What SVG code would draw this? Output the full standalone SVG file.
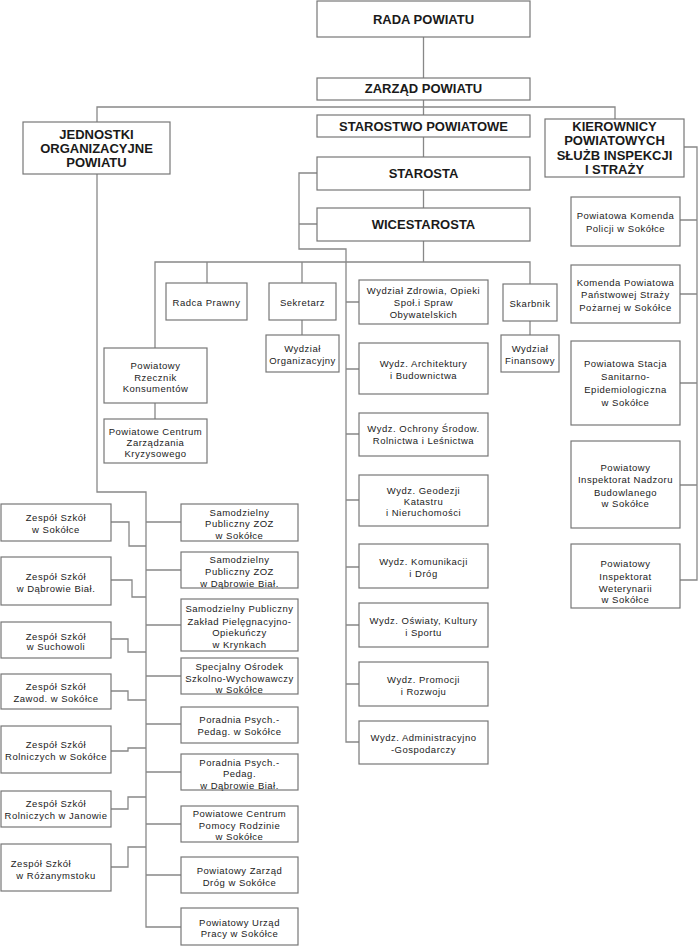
<svg xmlns="http://www.w3.org/2000/svg" width="700" height="946" viewBox="0 0 700 946">
<style>
.b{fill:#fff;stroke:#777;stroke-width:1.2}
.h{font-family:"Liberation Sans",Arial,sans-serif;font-weight:bold;font-size:13px;fill:#1a1a1a;text-anchor:middle}
.t{font-family:"Liberation Sans",Arial,sans-serif;font-size:9.5px;letter-spacing:0.5px;fill:#222;text-anchor:middle}
.ln{fill:none;stroke:#888;stroke-width:1.3}
</style>
<rect width="700" height="946" fill="#fff"/>
<g id="connectors" class="ln">
<path d="M423.5,37V78M423.5,100V115M97,122V107H615V119M423.5,137V157M423.5,190V208M423.5,241V262"/>
<path d="M317,173H299V249H346V742H359M299,224H317"/>
<path d="M155,348V262H530V284M207,262V283M302,262V283M302,320V335M155,403V419M530,321V335"/>
<path d="M346,302H359M346,369H359M346,434H359M346,500H359M346,567H359M346,625H359M346,684H359"/>
<path d="M684,147H697V580H680M680,220H697M680,294H697M680,383H697M680,485H697"/>
<path d="M97,174V492H146V927H181M146,522H181M146,570H181M146,625H181M146,676H181M146,724H181M146,772H181M146,824H181M146,875H181"/>
<path d="M111,522H129V546H146M111,580H132V597H146M111,639H128V652H146M111,691H128V700H146M111,751H128V748H146M111,809H128V797H146M111,867H128V847H146"/>
</g>
<g id="rada"><rect class="b" x="317" y="1" width="213" height="36"/><text class="h" x="423.5" y="24">RADA POWIATU</text></g>
<g id="zarzad"><rect class="b" x="317" y="78" width="213" height="22"/><text class="h" x="423.5" y="93">ZARZĄD POWIATU</text></g>
<g id="starostwo"><rect class="b" x="317" y="115" width="213" height="22"/><text class="h" x="423.5" y="131">STAROSTWO POWIATOWE</text></g>
<g id="jednostki"><rect class="b" x="23" y="122" width="147" height="52"/><text class="h" x="96.5" y="139">JEDNOSTKI</text><text class="h" x="96.5" y="153">ORGANIZACYJNE</text><text class="h" x="96.5" y="167">POWIATU</text></g>
<g id="kierownicy"><rect class="b" x="545" y="119" width="139" height="58"/><text class="h" x="614.5" y="131">KIEROWNICY</text><text class="h" x="614.5" y="145">POWIATOWYCH</text><text class="h" x="614.5" y="160">SŁUŻB INSPEKCJI</text><text class="h" x="614.5" y="174">I STRAŻY</text></g>
<g id="starosta"><rect class="b" x="317" y="157" width="213" height="33"/><text class="h" x="423.5" y="178">STAROSTA</text></g>
<g id="wicestarosta"><rect class="b" x="317" y="208" width="213" height="33"/><text class="h" x="423.5" y="229">WICESTAROSTA</text></g>
<g id="radca"><rect class="b" x="166" y="283" width="81" height="37"/><text class="t" x="206.5" y="306">Radca Prawny</text></g>
<g id="sekretarz"><rect class="b" x="269" y="283" width="67" height="37"/><text class="t" x="302.5" y="306">Sekretarz</text></g>
<g id="wydz-org"><rect class="b" x="266" y="335" width="73" height="37"/><text class="t" x="302.5" y="351.5">Wydział</text><text class="t" x="302.5" y="363.5">Organizacyjny</text></g>
<g id="rzecznik"><rect class="b" x="104" y="348" width="103" height="55"/><text class="t" x="155.5" y="369">Powiatowy</text><text class="t" x="155.5" y="380.5">Rzecznik</text><text class="t" x="155.5" y="392">Konsumentów</text></g>
<g id="pczk"><rect class="b" x="104" y="419" width="103" height="44"/><text class="t" x="155.5" y="434.5">Powiatowe Centrum</text><text class="t" x="155.5" y="445.5">Zarządzania</text><text class="t" x="155.5" y="456.5">Kryzysowego</text></g>
<g id="skarbnik"><rect class="b" x="503" y="284" width="54" height="37"/><text class="t" x="530" y="306.5">Skarbnik</text></g>
<g id="wydz-fin"><rect class="b" x="501" y="335" width="58" height="37"/><text class="t" x="530" y="351.5">Wydział</text><text class="t" x="530" y="363.5">Finansowy</text></g>
<g id="wydz-zdrowia"><rect class="b" x="359" y="280" width="129" height="44"/><text class="t" x="423.5" y="293.5">Wydział Zdrowia, Opieki</text><text class="t" x="423.5" y="305.5">Społ.i Spraw</text><text class="t" x="423.5" y="317.5">Obywatelskich</text></g>
<g id="wydz-arch"><rect class="b" x="359" y="343" width="129" height="51"/><text class="t" x="423.5" y="366.5">Wydz. Architektury</text><text class="t" x="423.5" y="378.5">i Budownictwa</text></g>
<g id="wydz-ochrony"><rect class="b" x="359" y="413" width="129" height="43"/><text class="t" x="423.5" y="431.5">Wydz. Ochrony Środow.</text><text class="t" x="423.5" y="443.5">Rolnictwa i Leśnictwa</text></g>
<g id="wydz-geodezji"><rect class="b" x="359" y="475" width="129" height="51"/><text class="t" x="423.5" y="493.5">Wydz. Geodezji</text><text class="t" x="423.5" y="504.5">Katastru</text><text class="t" x="423.5" y="515.5">i Nieruchomości</text></g>
<g id="wydz-kom"><rect class="b" x="359" y="544" width="129" height="44"/><text class="t" x="423.5" y="564.5">Wydz. Komunikacji</text><text class="t" x="423.5" y="577">i Dróg</text></g>
<g id="wydz-osw"><rect class="b" x="359" y="603" width="129" height="44"/><text class="t" x="423.5" y="623.5">Wydz. Oświaty, Kultury</text><text class="t" x="423.5" y="635.5">i Sportu</text></g>
<g id="wydz-prom"><rect class="b" x="359" y="662" width="129" height="44"/><text class="t" x="423.5" y="682.5">Wydz. Promocji</text><text class="t" x="423.5" y="694.5">i Rozwoju</text></g>
<g id="wydz-adm"><rect class="b" x="359" y="721" width="129" height="43"/><text class="t" x="423.5" y="740.5">Wydz. Administracyjno</text><text class="t" x="423.5" y="752.5">-Gospodarczy</text></g>
<g id="policja"><rect class="b" x="571" y="197" width="109" height="49"/><text class="t" x="625.5" y="218.5">Powiatowa Komenda</text><text class="t" x="625.5" y="231.5">Policji w Sokółce</text></g>
<g id="psp"><rect class="b" x="571" y="265" width="109" height="58"/><text class="t" x="625.5" y="285.5">Komenda Powiatowa</text><text class="t" x="625.5" y="297.5">Państwowej Straży</text><text class="t" x="625.5" y="310.5">Pożarnej w Sokółce</text></g>
<g id="sanepid"><rect class="b" x="571" y="341" width="109" height="84"/><text class="t" x="625.5" y="366.5">Powiatowa Stacja</text><text class="t" x="625.5" y="380">Sanitarno-</text><text class="t" x="625.5" y="392.5">Epidemiologiczna</text><text class="t" x="625.5" y="405.5">w Sokółce</text></g>
<g id="pinb"><rect class="b" x="571" y="441" width="109" height="87"/><text class="t" x="625.5" y="470.5">Powiatowy</text><text class="t" x="625.5" y="482.5">Inspektorat Nadzoru</text><text class="t" x="625.5" y="495.5">Budowlanego</text><text class="t" x="625.5" y="506.5">w Sokółce</text></g>
<g id="piw"><rect class="b" x="571" y="544" width="109" height="64"/><text class="t" x="625.5" y="566.5">Powiatowy</text><text class="t" x="625.5" y="579.5">Inspektorat</text><text class="t" x="625.5" y="591.5">Weterynarii</text><text class="t" x="625.5" y="602.5">w Sokółce</text></g>
<g id="zoz-sokolka"><rect class="b" x="181" y="504" width="117" height="37"/><text class="t" x="239.5" y="515.5">Samodzielny</text><text class="t" x="239.5" y="526.5">Publiczny ZOZ</text><text class="t" x="239.5" y="538.5">w Sokółce</text></g>
<g id="zoz-dabrowa"><rect class="b" x="181" y="552" width="117" height="36"/><text class="t" x="239.5" y="562.5">Samodzielny</text><text class="t" x="239.5" y="574.5">Publiczny ZOZ</text><text class="t" x="239.5" y="586.5">w Dąbrowie Biał.</text></g>
<g id="zpo"><rect class="b" x="181" y="599" width="117" height="52"/><text class="t" x="239.5" y="611.5">Samodzielny Publiczny</text><text class="t" x="239.5" y="624.5">Zakład Pielęgnacyjno-</text><text class="t" x="239.5" y="635.5">Opiekuńczy</text><text class="t" x="239.5" y="647.5">w Krynkach</text></g>
<g id="sosw"><rect class="b" x="181" y="658" width="117" height="36"/><text class="t" x="239.5" y="669.5">Specjalny Ośrodek</text><text class="t" x="239.5" y="681.5">Szkolno-Wychowawczy</text><text class="t" x="239.5" y="692.5">w Sokółce</text></g>
<g id="ppp-sokolka"><rect class="b" x="181" y="707" width="117" height="36"/><text class="t" x="239.5" y="722.5">Poradnia Psych.-</text><text class="t" x="239.5" y="734.5">Pedag. w Sokółce</text></g>
<g id="ppp-dabrowa"><rect class="b" x="181" y="754" width="117" height="36"/><text class="t" x="239.5" y="765.5">Poradnia Psych.-</text><text class="t" x="239.5" y="776.5">Pedag.</text><text class="t" x="239.5" y="788.5">w Dąbrowie Biał.</text></g>
<g id="pcpr"><rect class="b" x="181" y="806" width="117" height="36"/><text class="t" x="239.5" y="816.5">Powiatowe Centrum</text><text class="t" x="239.5" y="828.5">Pomocy Rodzinie</text><text class="t" x="239.5" y="839.5">w Sokółce</text></g>
<g id="pzd"><rect class="b" x="181" y="857" width="117" height="36"/><text class="t" x="239.5" y="873.5">Powiatowy Zarząd</text><text class="t" x="239.5" y="885.5">Dróg w Sokółce</text></g>
<g id="pup"><rect class="b" x="181" y="908" width="117" height="37"/><text class="t" x="239.5" y="925.5">Powiatowy Urząd</text><text class="t" x="239.5" y="936.5">Pracy w Sokółce</text></g>
<g id="zs-sokolka"><rect class="b" x="1" y="504" width="110" height="37"/><text class="t" x="56" y="520.5">Zespół Szkół</text><text class="t" x="56" y="532.5">w Sokółce</text></g>
<g id="zs-dabrowa"><rect class="b" x="1" y="557" width="110" height="48"/><text class="t" x="56" y="579.5">Zespół Szkół</text><text class="t" x="56" y="591.5">w Dąbrowie Biał.</text></g>
<g id="zs-suchowola"><rect class="b" x="1" y="622" width="110" height="36"/><text class="t" x="56" y="639.5">Zespół Szkół</text><text class="t" x="56" y="650">w Suchowoli</text></g>
<g id="zs-zawod"><rect class="b" x="1" y="674" width="110" height="35"/><text class="t" x="56" y="689.5">Zespół Szkół</text><text class="t" x="56" y="701.5">Zawod. w Sokółce</text></g>
<g id="zs-roln-sokolka"><rect class="b" x="1" y="726" width="110" height="47"/><text class="t" x="56" y="747.5">Zespół Szkół</text><text class="t" x="56" y="760">Rolniczych w Sokółce</text></g>
<g id="zs-janow"><rect class="b" x="1" y="791" width="110" height="36"/><text class="t" x="56" y="806.5">Zespół Szkół</text><text class="t" x="56" y="819">Rolniczych w Janowie</text></g>
<g id="zs-rozanystok"><rect class="b" x="1" y="844" width="110" height="47"/><text class="t" x="41" y="866.5">Zespół Szkół</text><text class="t" x="56" y="878.5">w Różanymstoku</text></g>
</svg>
